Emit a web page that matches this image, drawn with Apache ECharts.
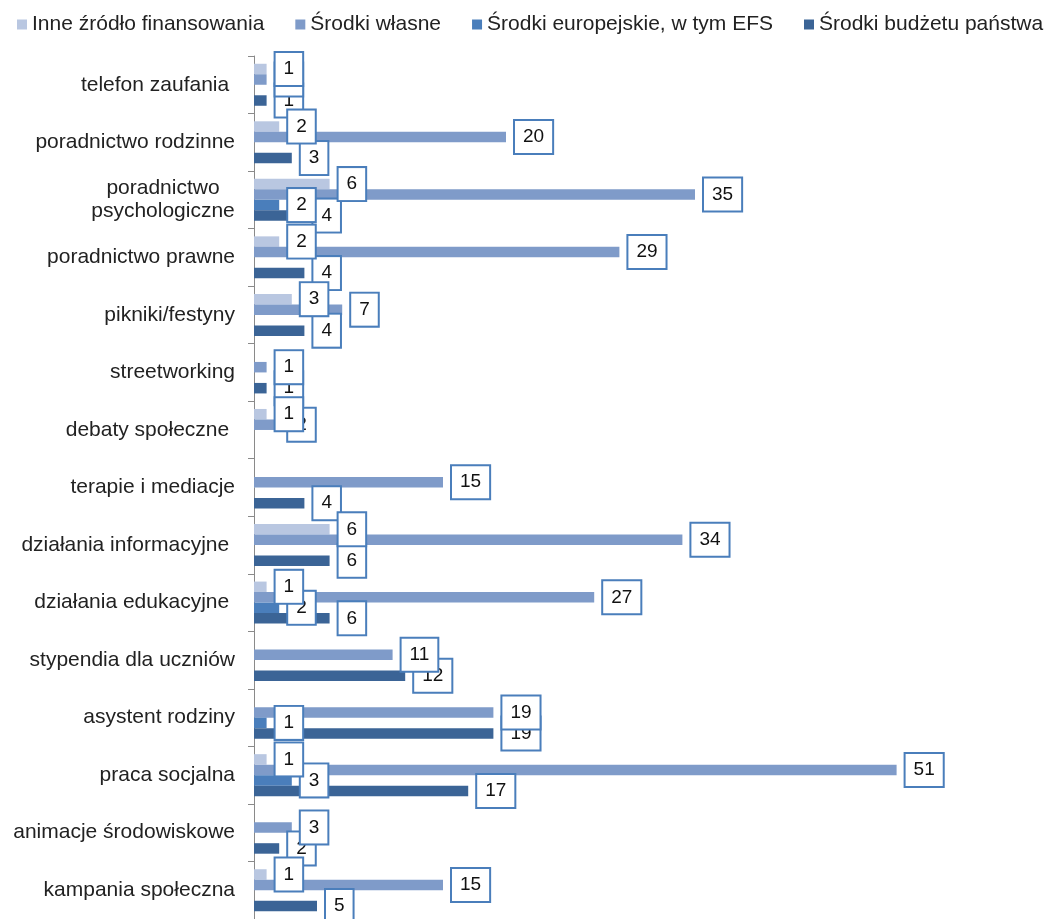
<!DOCTYPE html>
<html>
<head>
<meta charset="utf-8">
<script src="https://cdn.jsdelivr.net/npm/echarts@6/dist/echarts.min.js"></script>
<style>
  html, body { margin: 0; padding: 0; background: #fff; }
  #chart { width: 1053px; height: 919px; }
</style>
</head>
<body>
<div id="chart"></div>
<script>
// Forms of activity, top to bottom
const categories = [
  'telefon zaufania ',
  'poradnictwo rodzinne',
  'poradnictwo\npsychologiczne',
  'poradnictwo prawne',
  'pikniki/festyny',
  'streetworking',
  'debaty społeczne ',
  'terapie i mediacje',
  'działania informacyjne ',
  'działania edukacyjne ',
  'stypendia dla uczniów',
  'asystent rodziny',
  'praca socjalna',
  'animacje środowiskowe',
  'kampania społeczna'
];

const seriesNames = [
  'Inne źródło finansowania',
  'Środki własne',
  'Środki europejskie, w tym EFS',
  'Środki budżetu państwa'
];

// Number of activities by source of funding (null = none)
const inneZrodlo   = [1, 2, 6, 2, 3, null, 1, null, 6, 1, null, null, 1, null, 1];
const srodkiWlasne = [1, 20, 35, 29, 7, 1, 2, 15, 34, 27, 11, 19, 51, 3, 15];
const srodkiEuro   = [null, null, 2, null, null, null, null, null, null, 2, null, 1, 3, null, null];
const srodkiBudzet = [1, 3, 4, 4, 4, 1, null, 4, 6, 6, 12, 19, 17, 2, 5];

const values = [inneZrodlo, srodkiWlasne, srodkiEuro, srodkiBudzet];
const colors = ['#b9c7e1', '#7f9bc9', '#4a7ebb', '#3b6496'];

const FONT = '"Liberation Sans", Arial, sans-serif';
const TEXT = '#222';
const AXIS = '#8a8a8a';
const BAR_W = 10.5;

function valueAxis() {
  return { type: 'value', min: 0, max: 60, show: false, gridIndex: 0 };
}

function categoryAxis(visible) {
  return {
    type: 'category',
    data: categories,
    inverse: true,
    gridIndex: 0,
    show: visible,
    axisLine: { show: visible, lineStyle: { color: AXIS, width: 1 } },
    axisTick: { show: visible, length: 6, lineStyle: { color: AXIS } },
    axisLabel: {
      show: visible,
      margin: 19,
      fontFamily: FONT,
      fontSize: 21,
      color: TEXT,
      formatter: function (v) {
        if (v.indexOf('\n') < 0) return v;
        return v.split('\n').map(function (s) { return '{c|' + s + '}'; }).join('\n');
      },
      rich: {
        c: { width: 144, align: 'center', fontFamily: FONT, fontSize: 21, lineHeight: 23, color: TEXT }
      }
    }
  };
}

const series = [];

// Bars
values.forEach(function (data, i) {
  series.push({
    name: seriesNames[i],
    type: 'bar',
    xAxisIndex: 0,
    yAxisIndex: 0,
    data: data,
    barWidth: BAR_W,
    barGap: '0%',
    z: 2,
    itemStyle: { color: colors[i] },
    label: { show: false }
  });
});

// Value boxes, drawn above all bars; earlier series stack on top
values.forEach(function (data, i) {
  series.push({
    name: 'etykiety ' + i,
    type: 'bar',
    xAxisIndex: 1,
    yAxisIndex: 1,
    data: data,
    barWidth: BAR_W,
    barGap: '0%',
    z: 10 - i,
    silent: true,
    itemStyle: { color: 'rgba(0,0,0,0)' },
    label: {
      show: true,
      position: 'right',
      distance: 9,
      fontFamily: FONT,
      fontSize: 19,
      lineHeight: 20,
      color: '#111',
      backgroundColor: '#fff',
      borderColor: '#4a7ebb',
      borderWidth: 2,
      padding: [6, 8, 6, 8]
    }
  });
});

const chart = echarts.init(document.getElementById('chart'), null, { renderer: 'canvas' });
chart.setOption({
  animation: false,
  backgroundColor: '#fff',
  legend: {
    data: seriesNames,
    left: 12,
    top: 9,
    icon: 'rect',
    itemWidth: 10,
    itemHeight: 10,
    itemGap: 31,
    textStyle: { fontFamily: FONT, fontSize: 21, color: TEXT }
  },
  grid: { left: 254, top: 56, width: 756, height: 865, containLabel: false },
  xAxis: [valueAxis(), valueAxis()],
  yAxis: [categoryAxis(true), categoryAxis(false)],
  series: series
});
</script>
</body>
</html>
